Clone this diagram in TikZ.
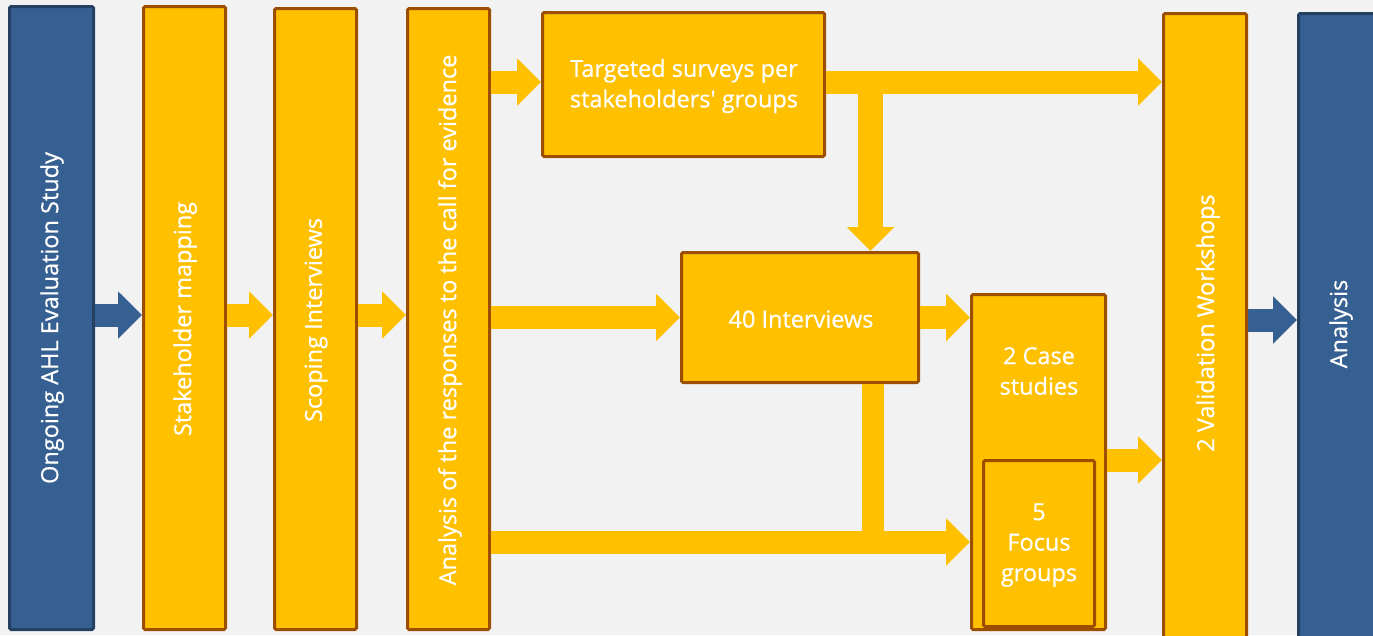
\documentclass[tikz,border=0pt]{standalone}
\usepackage{fontspec}
\setmainfont{Open Sans}
\newfontfamily\tfont{Open Sans}[Ligatures=TeXOff,BoldFont={Open Sans},BoldFeatures={FakeBold=0.6}]
\usetikzlibrary{arrows.meta}
\definecolor{bg}{HTML}{F2F2F2}
\definecolor{yel}{HTML}{FFC000}
\definecolor{brn}{HTML}{9C4F00}
\definecolor{bfill}{HTML}{376092}
\definecolor{bline}{HTML}{264061}
\begin{document}
\begin{tikzpicture}[x=1pt,y=-1pt,
 box/.style={draw, line width=3pt, rounded corners=1.5pt, inner sep=0pt, anchor=north west},
 ybox/.style={box, fill=yel, draw=brn},
 bbox/.style={box, fill=bfill, draw=bline},
 txt/.style={text=white, font=\tfont\bfseries\fontsize{23.5}{30.5}\selectfont, align=center, inner sep=0pt},
 vtxt/.style={txt, rotate=90},
 barrow/.style={line width=23pt, -{Triangle[length=24pt,width=46pt]}},
 yarrow/.style={barrow, draw=yel},
 blarrow/.style={barrow, draw=bfill},
 ybar/.style={line width=23pt, draw=yel}
]
\fill[bg] (0,0) rectangle (1373,635);
\useasboundingbox (0,0) rectangle (1373,635);
\clip (0,0) rectangle (1373,635);

% boxes
\node[bbox, minimum width=84pt, minimum height=623pt] (ongoing) at (8,5) {};
\node[ybox, minimum width=82pt, minimum height=623pt] (stake) at (142,5) {};
\node[ybox, minimum width=82pt, minimum height=621pt] (scoping) at (273,7) {};
\node[ybox, minimum width=82pt, minimum height=621pt] (resp) at (406,7) {};
\node[ybox, minimum width=282pt, minimum height=144pt] (surveys) at (541,11) {};
\node[ybox, minimum width=237pt, minimum height=130pt] (interviews) at (680,251) {};
\node[ybox, minimum width=134pt, minimum height=335pt] (case) at (970,293) {};
\node[ybox, minimum width=111pt, minimum height=166pt] (focus) at (982,459) {};
\node[ybox, minimum width=83pt, minimum height=626pt] (valid) at (1162,12) {};
\node[bbox, minimum width=90pt, minimum height=626pt] (analysis) at (1297,12) {};

% texts
\node[vtxt] (t-ongoing) at (52,318) {Ongoing AHL Evaluation Study};
\node[vtxt] (t-stake) at (185,319) {Stakeholder mapping};
\node[vtxt] (t-scoping) at (316,320) {Scoping Interviews};
\node[vtxt] (t-resp) at (450,320) {Analysis of the responses to the call for evidence};
\node[txt] (t-surveys) at (684,86) {Targeted surveys per\\stakeholders' groups};
\node[txt] (t-interviews) at (801,319) {40 Interviews};
\node[txt] (t-case) at (1039,371) {2 Case\\studies};
\node[txt] (t-focus) at (1039,545) {5\\Focus\\groups};
\node[vtxt] (t-valid) at (1208,323) {2 Validation Workshops};
\node[vtxt] (t-analysis) at (1341,324) {Analysis};

% level coordinates
\coordinate (r315) at (0,315);
\coordinate (r320) at (0,320);
\coordinate (r82) at (0,82);
\coordinate (r460) at (0,460);
\coordinate (r542) at (0,542);
\coordinate (c870) at (870.5,82);
\coordinate (c873) at (873,0);

% connectors
\draw[blarrow] (ongoing.east |- r315) -- (stake.west |- r315);
\draw[yarrow] (stake.east |- r315) -- (scoping.west |- r315);
\draw[yarrow] (scoping.east |- r315) -- (resp.west |- r315);
\draw[yarrow] (resp.east |- r82) -- (surveys.west |- r82);
\draw[yarrow] (surveys.east |- r82) -- (valid.west |- r82);
\draw[yarrow, line width=25pt] (c870) -- (c870 |- interviews.north);
\draw[yarrow] (resp.east |- interviews.west) -- (interviews.west);
\draw[yarrow] (interviews.east) -- (interviews.east -| case.west);
\draw[ybar, line width=22pt] (c873 |- interviews.south) -- (c873 |- r542);
\draw[yarrow] (resp.east |- r542) -- (case.west |- r542);
\draw[yarrow] (case.east |- r460) -- (valid.west |- r460);
\draw[blarrow] (valid.east |- r320) -- (analysis.west |- r320);
\end{tikzpicture}
\end{document}
